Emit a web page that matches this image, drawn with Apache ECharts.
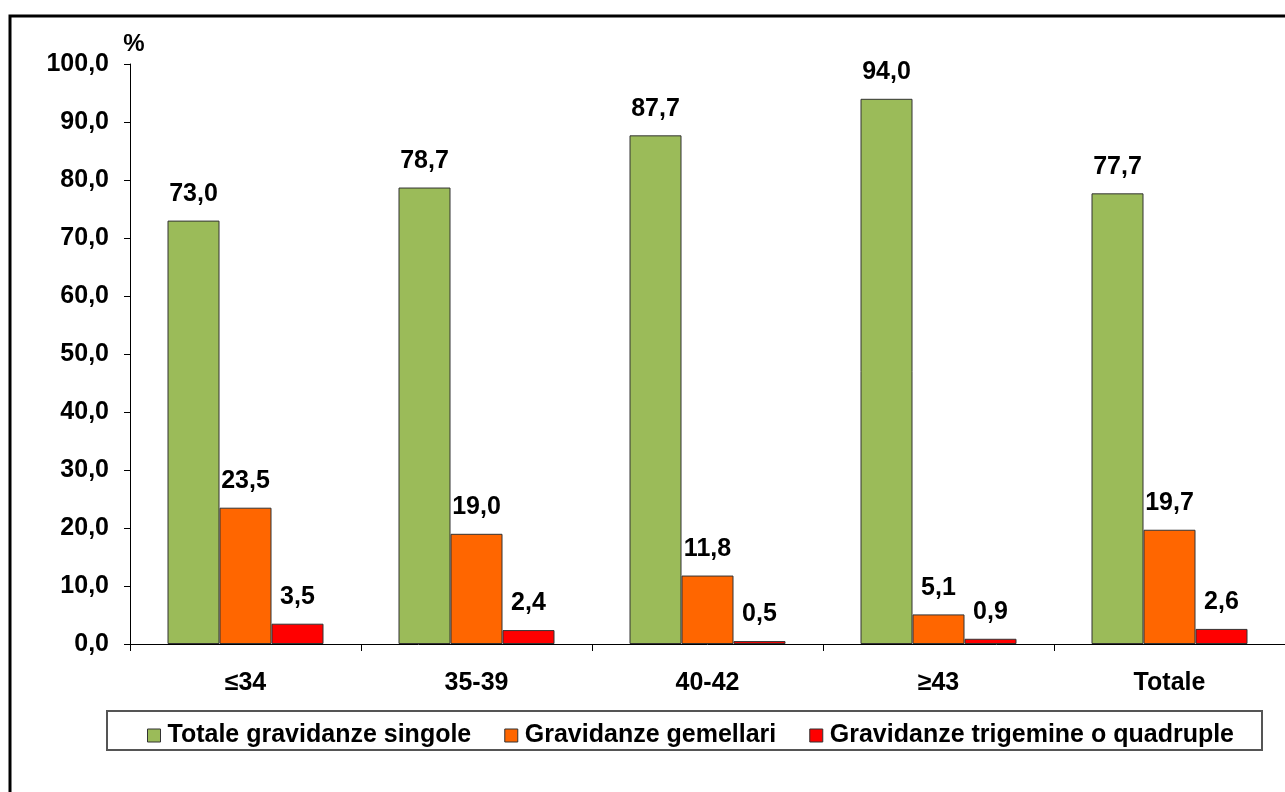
<!DOCTYPE html>
<html>
<head>
<meta charset="utf-8">
<script src="https://cdn.jsdelivr.net/npm/echarts@6/dist/echarts.min.js"></script>
<style>
  html, body { margin: 0; padding: 0; background: #fff; }
  #chart { width: 1285px; height: 792px; }
</style>
</head>
<body>
<div id="chart"></div>
<script>
const categories = ['≤34', '35-39', '40-42', '≥43', 'Totale']
const singole = [73.0, 78.7, 87.7, 94.0, 77.7]
const gemellari = [23.5, 19.0, 11.8, 5.1, 19.7]
const trigemine = [3.5, 2.4, 0.5, 0.9, 2.6]
const seriesNames = ['Totale gravidanze singole', 'Gravidanze gemellari', 'Gravidanze trigemine o quadruple']
const colors = ['#9BBB59', '#FF6600', '#FF0000']

const font = 'Arial, "Liberation Sans", sans-serif'
const fmt = v => Number(v).toFixed(1).replace('.', ',')

const chart = echarts.init(document.getElementById('chart'))

const makeSeries = (name, data, color) => ({
  name: name,
  type: 'bar',
  data: data,
  barWidth: 52,
  barGap: '0%',
  itemStyle: {
    color: color,
    borderColor: '#333',
    borderWidth: 1
  },
  label: {
    show: true,
    position: 'top',
    distance: 14,
    color: '#000',
    fontFamily: font,
    fontWeight: 'bold',
    fontSize: 25,
    formatter: p => fmt(p.value)
  }
})

const option = {
  animation: false,
  backgroundColor: '#fff',
  grid: {
    left: 130,
    right: 0,
    top: 64,
    bottom: 148
  },
  graphic: [
    {
      type: 'rect',
      shape: { x: 10, y: 16, width: 1300, height: 800 },
      style: { fill: 'none', stroke: '#000', lineWidth: 3 },
      silent: true
    },
    {
      type: 'rect',
      shape: { x: 107, y: 711, width: 1155, height: 39 },
      style: { fill: '#fff', stroke: '#555', lineWidth: 2 },
      silent: true,
      z: 0
    }
  ],
  legend: {
    data: seriesNames.map(n => ({ name: n, icon: 'rect' })),
    left: 142,
    top: 718,
    itemWidth: 13,
    itemHeight: 13,
    itemGap: 33,
    z: 10,
    itemStyle: { borderColor: '#333', borderWidth: 1 },
    textStyle: {
      color: '#000',
      fontFamily: font,
      fontWeight: 'bold',
      fontSize: 25,
      padding: [0, 0, 0, 2]
    }
  },
  xAxis: {
    type: 'category',
    data: categories,
    axisLine: { lineStyle: { color: '#000', width: 1 } },
    axisTick: { show: true, length: 7, lineStyle: { color: '#000' } },
    axisLabel: {
      margin: 27,
      color: '#000',
      fontFamily: font,
      fontWeight: 'bold',
      fontSize: 25
    }
  },
  yAxis: {
    type: 'value',
    min: 0,
    max: 100,
    interval: 10,
    name: '%',
    nameGap: 8,
    nameTextStyle: {
      color: '#000',
      fontFamily: font,
      fontWeight: 'bold',
      fontSize: 24,
      padding: [0, 0, 0, 8]
    },
    splitLine: { show: false },
    axisLine: { show: true, lineStyle: { color: '#000', width: 1 } },
    axisTick: { show: true, length: 6, lineStyle: { color: '#000' } },
    axisLabel: {
      margin: 21,
      color: '#000',
      fontFamily: font,
      fontWeight: 'bold',
      fontSize: 25,
      formatter: v => fmt(v)
    }
  },
  series: [
    makeSeries(seriesNames[0], singole, colors[0]),
    makeSeries(seriesNames[1], gemellari, colors[1]),
    makeSeries(seriesNames[2], trigemine, colors[2])
  ]
}

chart.setOption(option)
</script>
</body>
</html>
